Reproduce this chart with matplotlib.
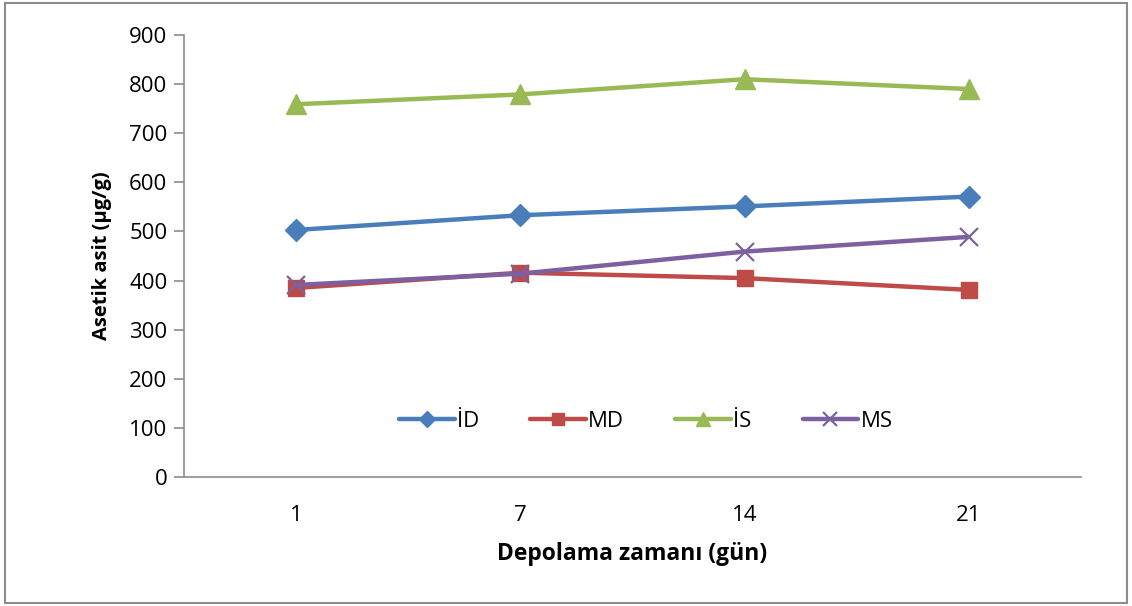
import matplotlib.pyplot as plt
from matplotlib.patches import Rectangle

# storage days and acetic acid content (ug/g) per sample group
days = ["1", "7", "14", "21"]
id_vals = [503, 533, 551, 571]
md_vals = [385, 416, 405, 381]
is_vals = [759, 779, 810, 790]
ms_vals = [391, 414, 459, 489]

series = [
    ("İD", id_vals, "#4A7EBB", "D", 11),
    ("MD", md_vals, "#BE4B48", "s", 12),
    ("İS", is_vals, "#98B954", "^", 14),
    ("MS", ms_vals, "#7D60A0", "x", 13),
]

plt.rcParams["font.family"] = ["Open Sans", "DejaVu Sans"]

fig = plt.figure(figsize=(11.32, 6.06), dpi=100)
ax = fig.add_axes([184 / 1132, 1 - 477 / 606, 897 / 1132, 442 / 606])

x = range(1, len(days) + 1)
for name, vals, color, marker, ms in series:
    if marker == "x":
        ax.plot(x, vals, color=color, lw=3.2, marker=marker, ms=ms,
                mew=1.6, label=name, solid_capstyle="round")
    else:
        ax.plot(x, vals, color=color, lw=3.2, marker=marker, ms=ms,
                mec=color, label=name, solid_capstyle="round")

ax.set_xlim(0.5, len(days) + 0.5)
ax.set_ylim(0, 900)
ax.set_yticks(range(0, 901, 100))
ax.set_xticks(list(x))
ax.set_xticklabels(days)

for side in ("top", "right"):
    ax.spines[side].set_visible(False)
for side in ("left", "bottom"):
    ax.spines[side].set_color("#8C8C8C")
    ax.spines[side].set_linewidth(1.2)

ax.tick_params(axis="y", direction="out", length=7, width=1.2,
               color="#8C8C8C", labelsize=16, pad=5)
ax.tick_params(axis="x", length=0, labelsize=16, pad=20)

ax.set_ylabel("Asetik asit (µg/g)", fontsize=14.5, fontweight="bold",
              labelpad=12)
ax.set_xlabel("Depolama zamanı (gün)", fontsize=16.5, fontweight="bold",
              labelpad=12)

ax.legend(loc="center", bbox_to_anchor=(0.515, 0.126), ncol=4,
          frameon=False, fontsize=16, handlelength=2.5, handletextpad=0.1,
          columnspacing=2.3, markerscale=0.75)

fig.patches.append(Rectangle((5 / 1132, 3 / 606), 1122 / 1132, 600 / 606,
                             transform=fig.transFigure, fill=False,
                             edgecolor="#8C8C8C", lw=1.5))

fig.savefig("out.png", dpi=100)
